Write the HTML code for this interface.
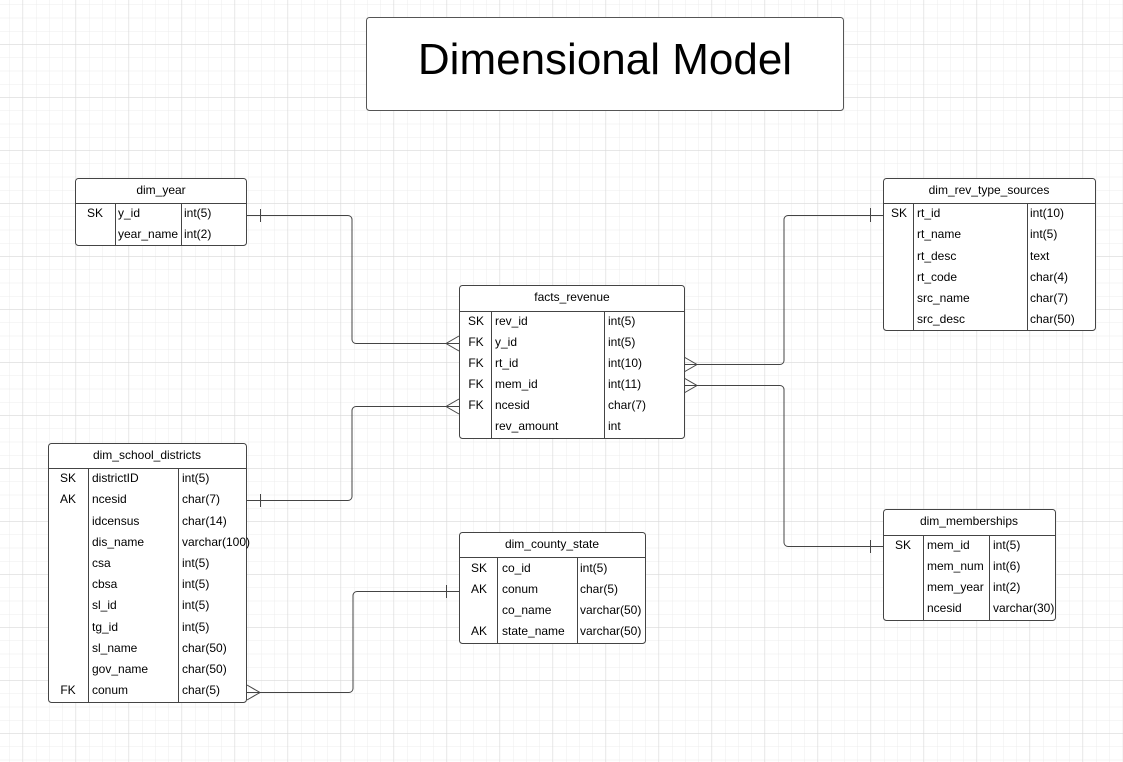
<!DOCTYPE html>
<html><head><meta charset="utf-8"><style>
html,body{margin:0;padding:0;background:#fff;}
svg{display:block;}
text{font-family:"Liberation Sans",Arial,sans-serif;font-size:12px;fill:#000;}
.h{text-anchor:middle;}
.k{text-anchor:middle;}
</style></head><body>
<svg width="1123" height="762" xmlns="http://www.w3.org/2000/svg">
<defs>
<pattern id="mi" x="9.5" y="4.5" width="13.25" height="13.25" patternUnits="userSpaceOnUse">
<path d="M0 0V13.25M0 0H13.25" stroke="#ececec" stroke-width="1" fill="none"/></pattern>
<pattern id="ma" x="22.5" y="44.5" width="53" height="53" patternUnits="userSpaceOnUse">
<path d="M0 0V53M0 0H53" stroke="#d8d8d8" stroke-width="1" fill="none"/></pattern>
</defs>
<rect width="1123" height="762" fill="#fff"/>
<rect width="1123" height="762" fill="url(#mi)"/>
<rect width="1123" height="762" fill="url(#ma)"/>

<!-- Title -->
<rect x="366.5" y="17.5" width="477" height="93" rx="3" fill="#fff" stroke="#555"/>
<text x="605" y="74" style="font-size:44px" class="h">Dimensional Model</text>

<g stroke="#444" stroke-width="1" fill="none">
<!-- connectors -->
<path d="M247 215.5H348a4 4 0 0 1 4 4V339.5a4 4 0 0 0 4 4H459"/>
<path d="M260.5 209V222"/>
<path d="M459 336L446 343.5L459 351"/>
<path d="M247 500.5H348a4 4 0 0 0 4 -4V410.5a4 4 0 0 1 4 -4H459"/>
<path d="M260.5 494V507"/>
<path d="M459 399L446 406.5L459 414"/>
<path d="M684 364.5H780a4 4 0 0 0 4 -4V219.5a4 4 0 0 1 4 -4H883"/>
<path d="M684 357L697 364.5L684 372"/>
<path d="M870.5 208V222"/>
<path d="M684 385.5H780a4 4 0 0 1 4 4V542.5a4 4 0 0 0 4 4H883"/>
<path d="M684 378L697 385.5L684 393"/>
<path d="M870.5 540V553"/>
<path d="M247 692.5H349a4 4 0 0 0 4 -4V595.5a4 4 0 0 1 4 -4H459"/>
<path d="M247 685L260 692.5L247 700"/>
<path d="M446.5 585V598"/>
</g>

<!-- dim_year -->
<g stroke="#444" fill="none">
<rect x="75.5" y="178.5" width="171" height="67" rx="3" fill="#fff"/>
<path d="M75.5 203.5H246.5M115.5 203.5V245.5M181.5 203.5V245.5"/>
</g>
<text x="161" y="194" class="h">dim_year</text>
<text x="95" y="217" class="k">SK</text><text x="118" y="217">y_id</text><text x="184" y="217">int(5)</text>
<text x="118" y="238">year_name</text><text x="184" y="238">int(2)</text>

<!-- facts_revenue -->
<g stroke="#444" fill="none">
<rect x="459.5" y="285.5" width="225" height="153" rx="3" fill="#fff"/>
<path d="M459.5 311.5H684.5M491.5 311.5V438.5M604.5 311.5V438.5"/>
</g>
<text x="572" y="301" class="h">facts_revenue</text>
<text x="476" y="325" class="k">SK</text><text x="495" y="325">rev_id</text><text x="608" y="325">int(5)</text>
<text x="476" y="346" class="k">FK</text><text x="495" y="346">y_id</text><text x="608" y="346">int(5)</text>
<text x="476" y="367" class="k">FK</text><text x="495" y="367">rt_id</text><text x="608" y="367">int(10)</text>
<text x="476" y="388" class="k">FK</text><text x="495" y="388">mem_id</text><text x="608" y="388">int(11)</text>
<text x="476" y="409" class="k">FK</text><text x="495" y="409">ncesid</text><text x="608" y="409">char(7)</text>
<text x="495" y="430">rev_amount</text><text x="608" y="430">int</text>

<!-- dim_rev_type_sources -->
<g stroke="#444" fill="none">
<rect x="883.5" y="178.5" width="212" height="152" rx="3" fill="#fff"/>
<path d="M883.5 203.5H1095.5M913.5 203.5V330.5M1027.5 203.5V330.5"/>
</g>
<text x="989" y="194" class="h">dim_rev_type_sources</text>
<text x="899" y="217" class="k">SK</text><text x="917" y="217">rt_id</text><text x="1030" y="217">int(10)</text>
<text x="917" y="238">rt_name</text><text x="1030" y="238">int(5)</text>
<text x="917" y="260">rt_desc</text><text x="1030" y="260">text</text>
<text x="917" y="281">rt_code</text><text x="1030" y="281">char(4)</text>
<text x="917" y="302">src_name</text><text x="1030" y="302">char(7)</text>
<text x="917" y="323">src_desc</text><text x="1030" y="323">char(50)</text>

<!-- dim_school_districts -->
<g stroke="#444" fill="none">
<rect x="48.5" y="443.5" width="198" height="259" rx="3" fill="#fff"/>
<path d="M48.5 468.5H246.5M88.5 468.5V702.5M178.5 468.5V702.5"/>
</g>
<text x="147" y="459" class="h">dim_school_districts</text>
<text x="68" y="482" class="k">SK</text><text x="92" y="482">districtID</text><text x="182" y="482">int(5)</text>
<text x="68" y="503" class="k">AK</text><text x="92" y="503">ncesid</text><text x="182" y="503">char(7)</text>
<text x="92" y="525">idcensus</text><text x="182" y="525">char(14)</text>
<text x="92" y="546">dis_name</text><text x="182" y="546">varchar(100)</text>
<text x="92" y="567">csa</text><text x="182" y="567">int(5)</text>
<text x="92" y="588">cbsa</text><text x="182" y="588">int(5)</text>
<text x="92" y="609">sl_id</text><text x="182" y="609">int(5)</text>
<text x="92" y="631">tg_id</text><text x="182" y="631">int(5)</text>
<text x="92" y="652">sl_name</text><text x="182" y="652">char(50)</text>
<text x="92" y="673">gov_name</text><text x="182" y="673">char(50)</text>
<text x="68" y="694" class="k">FK</text><text x="92" y="694">conum</text><text x="182" y="694">char(5)</text>

<!-- dim_county_state -->
<g stroke="#444" fill="none">
<rect x="459.5" y="532.5" width="186" height="111" rx="3" fill="#fff"/>
<path d="M459.5 557.5H645.5M497.5 557.5V643.5M577.5 557.5V643.5"/>
</g>
<text x="552" y="548" class="h">dim_county_state</text>
<text x="479" y="572" class="k">SK</text><text x="502" y="572">co_id</text><text x="580" y="572">int(5)</text>
<text x="479" y="593" class="k">AK</text><text x="502" y="593">conum</text><text x="580" y="593">char(5)</text>
<text x="502" y="614">co_name</text><text x="580" y="614">varchar(50)</text>
<text x="479" y="635" class="k">AK</text><text x="502" y="635">state_name</text><text x="580" y="635">varchar(50)</text>

<!-- dim_memberships -->
<g stroke="#444" fill="none">
<rect x="883.5" y="509.5" width="172" height="111" rx="3" fill="#fff"/>
<path d="M883.5 535.5H1055.5M923.5 535.5V620.5M989.5 535.5V620.5"/>
</g>
<text x="969" y="525" class="h">dim_memberships</text>
<text x="903" y="549" class="k">SK</text><text x="927" y="549">mem_id</text><text x="993" y="549">int(5)</text>
<text x="927" y="570">mem_num</text><text x="993" y="570">int(6)</text>
<text x="927" y="591">mem_year</text><text x="993" y="591">int(2)</text>
<text x="927" y="612">ncesid</text><text x="993" y="612">varchar(30)</text>
</svg>
</body></html>
